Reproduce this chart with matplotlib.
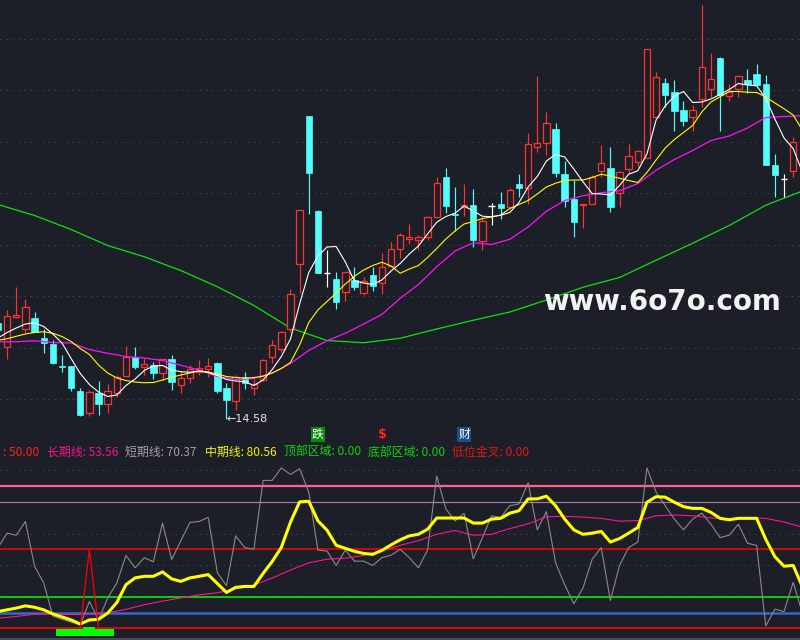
import matplotlib
matplotlib.use('Agg')
import matplotlib.pyplot as plt
from matplotlib.patches import Rectangle
import matplotlib.transforms as mtransforms

# ---------------- data ----------------
opens = [18.42,17.46,18.66,18.18,18.62,17.82,17.58,16.70,16.70,15.70,
         14.82,15.62,15.18,15.62,16.30,17.06,16.66,16.74,16.42,16.98,
         15.94,16.22,16.46,16.58,16.82,15.82,15.30,16.26,15.82,16.14,
         17.06,17.38,18.18,20.78,26.70,22.90,20.42,20.18,19.66,20.14,
         19.62,20.34,20.02,20.70,21.38,21.78,21.74,21.86,22.66,24.26,
         22.78,23.06,23.14,21.70,23.10,23.18,23.06,23.98,23.82,25.46,
         25.62,26.18,24.38,23.38,23.16,23.18,24.50,24.62,23.62,24.58,
         24.86,25.02,26.66,28.02,27.66,26.94,26.66,27.38,27.78,29.02,
         27.50,27.78,28.14,28.38,27.98,24.74,24.18,24.50]
highs = [18.54,18.94,19.86,19.38,18.86,18.18,17.74,17.14,16.70,15.82,
         15.74,16.10,15.98,16.34,17.50,17.46,17.02,16.86,16.98,17.14,
         16.50,16.74,16.94,17.02,16.86,16.02,16.34,16.46,16.18,16.98,
         17.74,18.10,19.78,22.94,26.70,22.94,21.34,20.46,20.46,20.66,
         20.26,20.66,21.22,21.66,22.02,22.38,21.94,22.66,24.26,24.62,
         23.86,23.98,23.78,22.62,23.22,23.66,23.82,24.38,26.02,28.30,
         26.86,26.42,24.90,24.14,23.18,24.34,25.54,25.46,24.50,25.58,
         25.34,29.38,28.46,28.22,28.14,27.30,27.14,31.14,29.22,29.06,
         27.98,28.30,28.58,28.78,28.34,25.18,24.38,25.86]
lows = [18.02,16.98,18.62,18.02,18.06,17.22,16.78,16.46,15.70,14.70,
        14.70,14.74,14.82,15.46,16.30,16.58,16.34,16.18,16.14,15.74,
        15.62,16.02,16.34,16.26,15.62,14.58,14.94,15.78,15.54,16.10,
        16.82,17.26,18.06,19.62,22.78,20.42,19.86,18.98,19.30,19.74,
        19.54,19.70,19.58,20.70,21.02,21.58,21.34,21.74,22.66,22.82,
        22.10,22.70,21.46,21.34,22.34,22.58,22.98,23.46,23.18,25.26,
        25.14,24.26,23.06,21.86,22.22,23.18,24.26,22.86,23.06,24.42,
        24.66,25.02,26.66,27.06,26.10,26.30,26.10,27.06,27.46,26.10,
        27.30,27.46,27.62,27.94,24.74,23.46,23.46,24.26]
closes = [18.14,18.70,18.74,19.06,18.06,17.62,16.82,16.66,15.82,14.74,
          15.66,15.18,15.70,16.26,17.06,16.66,16.78,16.42,16.98,16.06,
          16.22,16.58,16.62,16.70,15.70,15.34,16.26,16.02,15.98,16.94,
          17.54,18.06,19.58,22.94,24.42,20.42,20.42,19.26,20.46,19.86,
          20.10,19.90,20.66,21.38,21.94,21.86,21.86,22.66,24.02,23.10,
          22.76,23.14,21.74,22.50,23.10,23.02,23.74,23.82,25.58,25.62,
          26.42,24.42,23.30,22.46,23.18,24.26,24.82,23.06,24.46,25.10,
          25.30,29.38,28.26,27.54,26.90,26.50,26.94,28.66,28.18,27.54,
          27.66,28.30,27.98,27.94,24.74,24.34,24.18,25.66]

# moving-average lines (white, yellow at every bar; magenta every 2nd; green every 4th)
ma_white = [17.82,18.04,18.22,18.38,18.43,18.28,17.98,17.62,17.00,16.40,
            15.96,15.66,15.48,15.54,15.92,16.18,16.52,16.70,16.72,16.54,
            16.47,16.45,16.50,16.44,16.32,16.16,16.10,16.07,15.92,16.14,
            16.56,17.08,17.78,19.18,20.44,21.10,21.46,21.48,20.86,20.10,
            20.02,19.96,20.14,20.50,20.80,21.18,21.50,21.98,22.45,22.68,
            22.81,23.10,22.90,22.69,22.67,22.73,22.84,23.24,23.86,24.28,
            24.90,25.16,25.06,24.58,24.07,23.60,23.58,23.54,23.92,24.37,
            24.51,25.18,26.54,27.10,27.50,27.68,27.24,27.26,27.38,27.56,
            27.76,28.00,27.94,27.91,27.40,26.58,25.82,25.40,24.46]
ma_yellow = [17.73,17.79,17.89,17.98,18.04,18.07,18.01,17.88,17.68,17.40,
             17.16,16.74,16.42,16.22,16.12,16.06,16.03,16.04,16.14,16.25,
             16.34,16.42,16.50,16.46,16.38,16.28,16.24,16.21,16.24,16.29,
             16.42,16.60,16.84,17.54,18.44,18.94,19.28,19.62,19.98,20.29,
             20.54,20.72,20.85,20.70,20.41,20.58,20.72,21.04,21.40,21.78,
             22.10,22.38,22.48,22.60,22.66,22.74,23.00,23.16,23.32,23.58,
             23.86,24.01,24.12,24.14,24.14,24.24,24.37,24.30,24.21,24.12,
             24.04,24.44,24.94,25.42,25.76,26.04,26.32,26.86,27.26,27.47,
             27.68,27.68,27.65,27.64,27.46,27.22,26.99,26.74,26.14]
ma_magenta_idx = list(range(0, 89, 2))
ma_magenta = [17.67,17.67,17.71,17.64,17.62,17.36,17.21,17.08,17.02,16.92,
              16.73,16.54,16.28,16.16,16.20,16.42,16.80,17.32,17.71,18.01,
              18.38,18.76,19.41,19.96,20.67,21.30,21.63,21.56,21.77,22.26,
              22.89,23.32,23.51,23.63,23.71,24.00,24.53,24.96,25.32,25.72,
              25.90,26.22,26.64,26.68,26.71]
ma_green_idx = list(range(0, 89, 4))
ma_green = [23.16,22.72,22.16,21.52,21.07,20.52,19.87,19.12,18.22,17.72,
            17.63,17.81,18.18,18.53,18.86,19.34,19.85,20.24,20.93,21.61,
            22.32,23.13,23.70]

# lower indicator
short_line = [51.1,60.2,58.9,67.6,39.3,28.7,7.8,5.7,4.0,2.1,
              17.0,5.3,19.1,28.7,46.1,38.3,44.7,42.1,66.6,43.6,
              55.3,67.0,67.6,70.2,35.1,27.0,58.5,51.1,50.0,93.6,
              93.6,101.5,97.4,101.0,86.2,49.5,48.9,39.8,49.5,42.5,
              42.5,39.8,44.7,46.3,50.0,44.7,38.3,49.5,96.4,75.5,
              68.0,72.8,44.0,57.4,71.2,70.2,77.6,78.7,92.1,62.3,
              73.8,41.5,27.6,15.5,25.5,43.6,51.1,17.6,39.8,51.1,
              54.6,101.5,86.2,77.6,69.1,62.3,69.1,72.9,65.9,57.4,
              58.9,65.9,53.8,52.5,1.5,12.1,10.6,29.1,9.8]
mid_line = [10.6,11.7,12.8,14.2,13.3,11.7,9.1,7.2,5.3,2.7,
            5.3,5.7,9.6,16.3,27.6,31.9,32.9,32.9,35.7,31.3,
            29.7,31.9,32.9,34.0,28.3,22.7,25.9,26.5,26.5,34.7,
            42.3,51.2,67.2,80.0,80.4,68.0,62.1,52.5,50.6,48.7,
            47.4,46.8,49.3,52.8,56.0,58.5,59.5,62.7,69.8,69.8,
            69.8,69.8,66.6,66.6,69.1,69.6,72.9,74.4,81.9,81.9,
            83.6,77.6,69.1,62.3,59.5,60.2,61.3,54.6,56.8,60.2,
            63.8,79.8,83.3,83.0,79.8,77.0,75.9,75.9,73.4,69.6,
            68.7,69.6,69.6,69.6,56.3,45.3,39.3,39.8,26.4]
long_idx = list(range(0, 89, 2))
long_line = [6.3,7.5,8.9,9.0,8.7,8.8,9.8,12.0,14.9,17.2,
             19.2,21.2,22.5,24.9,27.4,31.8,36.9,41.4,43.7,44.4,
             46.1,49.2,52.5,55.5,59.5,61.9,58.9,59.5,63.1,66.1,
             70.6,70.9,70.4,69.6,67.8,68.2,71.2,71.7,71.2,69.9,
             69.1,70.1,69.6,67.3,64.0]
low_cross = [0,0,0,0,0,0,0,0,0,0,
             50,0,0,0,0,0,0,0,0,0,
             0,0,0,0,0,0,0,0,0,0,
             0,0,0,0,0,0,0,0,0,0,
             0,0,0,0,0,0,0,0,0,0,
             0,0,0,0,0,0,0,0,0,0,
             0,0,0,0,0,0,0,0,0,0,
             0,0,0,0,0,0,0,0,0,0,
             0,0,0,0,0,0,0,0,0]
bottom_zone_idx = [7, 8, 9, 10, 11, 12]
bottom_zone_top = [-0.4, -0.4, -0.4, 1.0, -0.4, -0.4]
bottom_zone_base = -4.7
levels = [90, 80, 50, 20, 10, 0]
level_colors = ['#ff5f91', '#a47ba4', '#ff0000', '#00ff00', '#3566cc', '#ff0000']
level_widths = [1.6, 0.9, 1.1, 1.1, 1.8, 1.1]

legend_items = [(': 50.00', '#ff2020'), ('长期线: 53.56', '#f0148c'),
                ('短期线: 70.37', '#a0a0a0'), ('中期线: 80.56', '#f2f200'),
                ('顶部区域: 0.00', '#10d010'), ('底部区域: 0.00', '#10d010'),
                ('低位金叉: 0.00', '#e01818')]
legend_x = [2.8, 46.6, 124.8, 205, 283.8, 368, 452.4]

# ---------------- drawing ----------------
BG = '#1c1f27'
RED = '#ff3232'
CYAN = '#54fcfc'
GRID = '#4b505e'
CJK = ['Noto Sans CJK SC', 'DejaVu Sans']
W, H = 800, 640

fig = plt.figure(figsize=(8, 6.4), dpi=100, facecolor=BG)
ax1 = fig.add_axes([0, 1 - 425 / H, 1, 425 / H])
ax2 = fig.add_axes([0, 1 / H, 1, 179 / H])
for ax in (ax1, ax2):
    ax.set_facecolor(BG)
    ax.set_xticks([])
    ax.set_yticks([])
    for s in ax.spines.values():
        s.set_visible(False)
    ax.set_xlim((0 + 2) / 9.14, (W + 2) / 9.14)

# top panel
ax1.set_ylim(14.34, 31.34)
for k in range(8):
    ax1.axhline(15.38 + 2.057 * k, color=GRID, lw=0.75, ls=(0, (1, 4.8)), zorder=0)

ax1.plot(ma_green_idx, ma_green, color='#10e010', lw=0.9, zorder=2)

w = 0.7
for i, (o, h, l, c) in enumerate(zip(opens, highs, lows, closes)):
    if c > o:
        ax1.vlines(i, c, h, color=RED, lw=0.85, zorder=3)
        ax1.vlines(i, l, o, color=RED, lw=0.85, zorder=3)
        ax1.add_patch(Rectangle((i - w / 2, o), w, c - o, facecolor=BG,
                                edgecolor=RED, lw=0.9, zorder=3))
    elif c < o:
        ax1.vlines(i, l, h, color=CYAN, lw=0.85, zorder=3)
        ax1.add_patch(Rectangle((i - w / 2, c), w, o - c, facecolor=CYAN,
                                edgecolor=CYAN, lw=0.5, zorder=3))
    else:
        ax1.vlines(i, l, h, color='white', lw=0.85, zorder=3)
        ax1.hlines(o, i - w / 2, i + w / 2, color='white', lw=1.0, zorder=3)

ax1.plot(ma_magenta_idx, ma_magenta, color='#ff10ff', lw=0.9, zorder=4)
ax1.plot(range(len(ma_yellow)), ma_yellow, color='#ffff00', lw=0.8, zorder=4)
ax1.plot(range(len(ma_white)), ma_white, color='#ffffff', lw=0.8, zorder=5)

low_i = lows.index(min(lows))
ax1.text(low_i, min(lows), '←' + f'{min(lows):.2f}', color='#e6e6e6', fontsize=8,
         va='center', ha='left', clip_on=False, family='DejaVu Sans', zorder=6)

fig.text(543 / W, 1 - 310 / H, 'www.6o7o.com', fontsize=20, fontweight='bold',
         color='#f2f2f2', va='baseline', ha='left', family='DejaVu Sans')

trans = mtransforms.blended_transform_factory(ax1.transData, fig.transFigure)
ymark = 1 - 434.5 / H
ax1.text(35, ymark, '跌', transform=trans, ha='center', va='center', color='white',
         fontsize=8.5, family=CJK, clip_on=False,
         bbox=dict(boxstyle='square,pad=0.08', fc='#0a8a0a', ec='none'))
ax1.text(42, ymark, '$', transform=trans, ha='center', va='center', color='#ff2020',
         fontsize=9, fontweight='bold', family='DejaVu Sans', clip_on=False)
ax1.text(51, ymark, '财', transform=trans, ha='center', va='center', color='white',
         fontsize=8.5, family=CJK, clip_on=False,
         bbox=dict(boxstyle='square,pad=0.08', fc='#1d4e89', ec='none'))

for (s, col), xp in zip(legend_items, legend_x):
    fig.text(xp / W, 1 - 452 / H, s, color=col, fontsize=8.6, va='center',
             ha='left', family=CJK)

# bottom panel
ax2.set_ylim((628.3 - 639) / 1.58, (628.3 - 460) / 1.58)
for v in [0, 20, 40, 60, 80, 100]:
    ax2.axhline(v, color=GRID, lw=0.75, ls=(0, (1, 4.8)), zorder=0)
for v, col, lw in zip(levels, level_colors, level_widths):
    ax2.axhline(v, color=col, lw=lw, zorder=1)
ax2.plot(range(len(short_line)), short_line, color='#8a8a8a', lw=0.8, zorder=2)
ax2.plot(long_idx, long_line, color='#ff1493', lw=0.8, zorder=3)
ax2.plot(range(len(mid_line)), mid_line, color='#ffff00', lw=2.2, zorder=4)
ax2.plot(range(len(low_cross)), low_cross, color='#ff0000', lw=0.9, zorder=5)
ax2.bar(bottom_zone_idx, [t - bottom_zone_base for t in bottom_zone_top],
        bottom=bottom_zone_base, width=1.3, color='#00ff00', zorder=6)
ax2.spines['bottom'].set_visible(True)
ax2.spines['bottom'].set_color('#434958')
ax2.spines['bottom'].set_linewidth(1.5)

fig.savefig('out.png', dpi=100, facecolor=BG)
